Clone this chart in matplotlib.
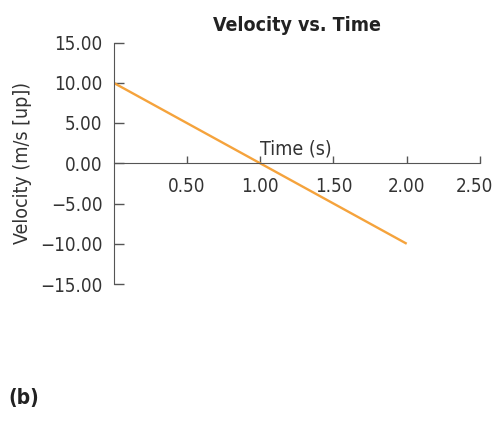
import matplotlib
matplotlib.use('Agg')
import matplotlib.pyplot as plt
from matplotlib.transforms import ScaledTranslation

# Data
time_s = [0.0, 0.5, 1.0, 1.5, 2.0]
velocity = [10.0, 5.0, 0.0, -5.0, -10.0]

x_ticks = [0.5, 1.0, 1.5, 2.0, 2.5]
x_tick_labels = ['0.50', '1.00', '1.50', '2.00', '2.50']
y_ticks = [15, 10, 5, 0, -5, -10, -15]
y_tick_labels = ['15.00', '10.00', '5.00', '0.00', '\u22125.00', '\u221210.00', '\u221215.00']

plt.rcParams['font.family'] = ['DejaVu Sans']
plt.rcParams['font.stretch'] = 'condensed'

fig = plt.figure(figsize=(4.95, 4.26), dpi=100)
W, H = 495, 426
ax = fig.add_axes([113.5 / W, 1 - 284 / H, (480 - 113.5) / W, (284 - 42.5) / H])

ax.plot(time_s, velocity, color='#F5A33C', linewidth=1.7, solid_capstyle='butt')

ax.set_xlim(0, 2.5)
ax.set_ylim(-15, 15)

spine_col = '#555555'
text_col = '#333333'
for side in ['top', 'right']:
    ax.spines[side].set_visible(False)
ax.spines['bottom'].set_position(('data', 0))
ax.spines['bottom'].set_color(spine_col)
ax.spines['left'].set_color(spine_col)

ax.set_xticks(x_ticks)
ax.set_xticklabels(x_tick_labels)
ax.set_yticks(y_ticks)
ax.set_yticklabels(y_tick_labels)
ax.tick_params(axis='x', direction='in', length=5, width=1, color=spine_col,
               labelsize=13.5, labelcolor=text_col, pad=10)
ax.tick_params(axis='y', direction='in', length=7, width=1, color=spine_col,
               labelsize=13.5, labelcolor=text_col, pad=8)

# last x label sits a bit left so it stays inside the figure
last = ax.get_xticklabels()[-1]
last.set_transform(last.get_transform() + ScaledTranslation(-6 / 100, 0, fig.dpi_scale_trans))

ax.text(1.0, 0.6, 'Time (s)', fontsize=14, color=text_col, ha='left', va='bottom')
ax.set_ylabel('Velocity (m/s [up])', fontsize=14, color=text_col, labelpad=6)
ax.set_title('Velocity vs. Time', fontsize=14, fontweight='bold', color='#222222', pad=8)

fig.text(8 / W, 1 - 398 / H, '(b)', fontsize=15, fontweight='bold', color='#222222',
         ha='left', va='center')

fig.savefig('out.png', dpi=100)
